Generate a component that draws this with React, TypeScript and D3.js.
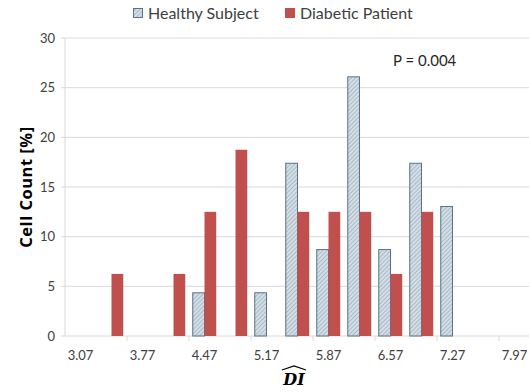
import React from "react";
import * as d3 from "d3";

// categories of the DI axis (bins)
const bins = [
  "3.07", "3.42", "3.77", "4.12", "4.47", "4.82", "5.17", "5.52",
  "5.87", "6.22", "6.57", "6.92", "7.27", "7.62", "7.97",
];
// cell counts in percent, null = no bar
const healthy = [null, null, null, null, 4.35, null, 4.35, 17.39, 8.7, 26.09, 8.7, 17.39, 13.04, null, null];
const diabetic = [null, 6.25, null, 6.25, 12.5, 18.75, null, 12.5, 12.5, 12.5, 6.25, 12.5, null, null, null];
const yTicks = [0, 5, 10, 15, 20, 25, 30];
const labelBins = ["3.07", "3.77", "4.47", "5.17", "5.87", "6.57", "7.27", "7.97"];
const seriesNames = ["Healthy Subject", "Diabetic Patient"];

const W = 529;
const H = 392;
const margin = { top: 38, right: -1, bottom: 56, left: 65 };
const font = "Lato, 'Open Sans', sans-serif";

export default function App() {
  const x = d3
    .scaleBand()
    .domain(bins)
    .range([margin.left, W - margin.right]);
  const y = d3.scaleLinear().domain([0, 30]).range([H - margin.bottom, margin.top]);
  const inner = d3.scaleBand().domain(["h", "d"]).range([0, x.bandwidth()]).paddingOuter(0.32).paddingInner(0);
  const bw = inner.bandwidth();
  const y0 = y(0);

  return (
    <svg width={W} height={H} style={{ position: "absolute", left: 0, top: 0, background: "#fff" }}>
      <defs>
        <pattern id="hatch" width="3" height="3" patternUnits="userSpaceOnUse" patternTransform="rotate(45)">
          <rect width="3" height="3" fill="#d3dee6" />
          <line x1="0" y1="0" x2="0" y2="3" stroke="#8ea3b2" strokeWidth="1.2" />
        </pattern>
      </defs>

      {/* gridlines */}
      {yTicks.map((t) => (
        <g key={t}>
          <line x1={margin.left - 4} x2={W} y1={y(t)} y2={y(t)} stroke="#d9d9d9" strokeWidth={1} />
          <text x={margin.left - 10} y={y(t)} dy="0.35em" textAnchor="end" fontSize={13} fill="#404040" fontFamily={font}>
            {t}
          </text>
        </g>
      ))}
      <line x1={margin.left} x2={margin.left} y1={margin.top} y2={y0} stroke="#d9d9d9" />

      {/* x ticks between every second category */}
      {bins.map((b, i) =>
        i % 2 === 0 && i > 0 ? (
          <line key={b} x1={x(b)!} x2={x(b)!} y1={y0} y2={y0 + 5} stroke="#d9d9d9" />
        ) : null
      )}
      {labelBins.map((b) => (
        <text key={b} x={x(b)! + x.bandwidth() / 2} y={y0 + 24} textAnchor="middle" fontSize={13} fill="#404040" fontFamily={font}>
          {b}
        </text>
      ))}

      {/* bars */}
      {bins.map((b, i) => (
        <g key={b}>
          {healthy[i] != null && (
            <rect
              x={x(b)! + inner("h")!}
              y={y(healthy[i]!)}
              width={bw}
              height={y0 - y(healthy[i]!)}
              fill="url(#hatch)"
              stroke="#56738a"
              strokeWidth={1}
            />
          )}
          {diabetic[i] != null && (
            <rect
              x={x(b)! + inner("d")!}
              y={y(diabetic[i]!)}
              width={bw}
              height={y0 - y(diabetic[i]!)}
              fill="#c0504d"
            />
          )}
        </g>
      ))}

      {/* legend */}
      <rect x={133.5} y={8.5} width={9} height={9} fill="url(#hatch)" stroke="#56738a" />
      <text x={148} y={18.5} fontSize={16} fill="#404040" fontFamily={font}>
        {seriesNames[0]}
      </text>
      <rect x={285} y={8} width={10} height={10} fill="#c0504d" />
      <text x={300} y={18.5} fontSize={16} fill="#404040" fontFamily={font}>
        {seriesNames[1]}
      </text>

      <text x={393} y={66} fontSize={15} fill="#262626" fontFamily={font}>
        P = 0.004
      </text>

      {/* axis titles */}
      <text
        transform={`translate(32,${(margin.top + y0) / 2}) rotate(-90)`}
        textAnchor="middle"
        fontSize={16.5}
        letterSpacing={0.5}
        fontWeight="bold"
        fill="#000"
        fontFamily="'Open Sans', sans-serif"
      >
        Cell Count [%]
      </text>
      <text x={294} y={385} textAnchor="middle" fontSize={16} fontWeight="bold" fontStyle="italic" fill="#000" fontFamily="'DejaVu Serif', serif">
        DI
      </text>
      <path d="M282,370 L294,366 L306,370" fill="none" stroke="#000" strokeWidth={1.3} />
    </svg>
  );
}
